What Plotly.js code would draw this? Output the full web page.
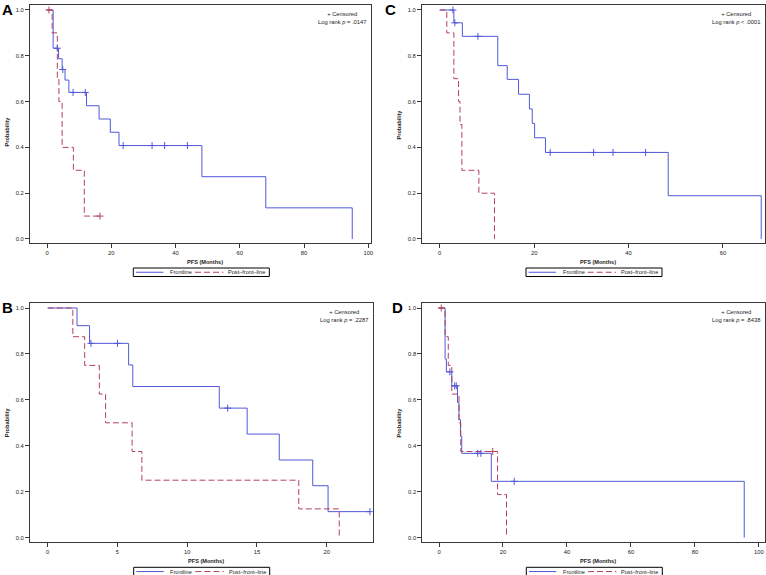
<!DOCTYPE html>
<html><head><meta charset="utf-8">
<script src="https://cdn.plot.ly/plotly-3.0.1.min.js"></script>
<style>html,body{margin:0;padding:0;background:#fff}#chart{width:766px;height:575px}</style>
</head><body><div id="chart"></div>
<script>
// ---------- data ----------
const seriesNames = ['Frontline', 'Post\u2013front\u2013line'];
const panelLetters = ['A', 'C', 'B', 'D'];
const logRankText = ['p = .0147', 'p < .0001', 'p = .2287', 'p = .8438'];

// Panel A
const aFrontTime = [0, 1.9, 3.6, 4.7, 5.6, 6.8, 12.3, 16.2, 19.7, 22.4, 48.2, 68.1, 95.0];
const aFrontSurv = [1, 0.833, 0.787, 0.740, 0.694, 0.640, 0.582, 0.524, 0.466, 0.408, 0.272, 0.136, 0];
const aFrontCens = [3.2, 4.9, 8.1, 11.9, 23.7, 32.7, 36.6, 43.7];
const aPostTime = [0, 1.6, 3.2, 3.7, 4.7, 8.2, 11.6, 16.5];
const aPostSurv = [1, 0.9, 0.7, 0.6, 0.4, 0.3, 0.1, 0.1];
const aPostCens = [0.6, 16.5];

// Panel C
const cFrontTime = [0, 3.0, 4.8, 12.3, 14.3, 16.7, 19.0, 19.6, 20.1, 22.4, 48.4, 68.1];
const cFrontSurv = [1, 0.944, 0.885, 0.757, 0.697, 0.632, 0.568, 0.505, 0.442, 0.378, 0.189, 0];
const cFrontCens = [2.8, 3.2, 8.1, 23.4, 32.6, 36.7, 43.6];
const cPostTime = [0, 1.5, 3.0, 4.0, 4.3, 4.7, 8.3, 11.6];
const cPostSurv = [1, 0.9, 0.7, 0.6, 0.5, 0.3, 0.2, 0];
const cPostCens = [];

// Panel B
const bFrontTime = [0, 2.1, 3.0, 5.8, 6.1, 12.3, 14.3, 16.6, 19.0, 20.1, 23.1];
const bFrontSurv = [1, 0.923, 0.846, 0.752, 0.658, 0.564, 0.451, 0.338, 0.226, 0.113, 0.113];
const bFrontCens = [3.1, 5.0, 12.9, 23.1];
const bPostTime = [0, 1.8, 2.65, 3.7, 4.15, 6.05, 6.75, 18.0, 20.9];
const bPostSurv = [1, 0.875, 0.75, 0.625, 0.5, 0.375, 0.25, 0.125, 0];
const bPostCens = [];

// Panel D
const dFrontTime = [0, 1.9, 2.3, 4.0, 5.8, 6.25, 6.7, 7.1, 16.35, 95.4];
const dFrontSurv = [1, 0.778, 0.722, 0.661, 0.588, 0.514, 0.441, 0.367, 0.245, 0];
const dFrontCens = [3.4, 4.9, 5.4, 12.1, 13.1, 23.5];
const dPostTime = [0, 1.9, 2.9, 4.0, 6.25, 6.8, 18.3, 21.1];
const dPostSurv = [1, 0.875, 0.75, 0.625, 0.5, 0.375, 0.1875, 0];
const dPostCens = [0.7, 16.8];

const yTicks = [0, 0.2, 0.4, 0.6, 0.8, 1.0];

// ---------- styling ----------
const W = 766, H = 575;
const BLUE = '#5058d8', RED = '#b4405e', FRAME = '#3a3a3a';
const FONT = 'Liberation Sans, Arial, sans-serif';
const px = x => x / W, py = y => 1 - y / H;

function stepAt(times, surv, t) {
  let v = surv[0];
  for (let i = 0; i < times.length; i++) if (times[i] <= t) v = surv[i];
  return v;
}

const panels = [
  {ft: aFrontTime, fs: aFrontSurv, fc: aFrontCens, pt: aPostTime, ps: aPostSurv, pc: aPostCens,
   box: [30, 371, 5, 243], xr: [-5.3, 100.84], yr: [-0.0175, 1.0218], dt: 20, ax: '', lc: 201.3},
  {ft: cFrontTime, fs: cFrontSurv, fc: cFrontCens, pt: cPostTime, ps: cPostSurv, pc: cPostCens,
   box: [422, 765, 5, 243], xr: [-3.75, 68.9], yr: [-0.0175, 1.0218], dt: 20, ax: '2', lc: 594},
  {ft: bFrontTime, fs: bFrontSurv, fc: bFrontCens, pt: bPostTime, ps: bPostSurv, pc: bPostCens,
   box: [30, 372.7, 303.3, 542.3], xr: [-1.27, 23.3], yr: [-0.0205, 1.0205], dt: 5, ax: '3', lc: 201.7},
  {ft: dFrontTime, fs: dFrontSurv, fc: dFrontCens, pt: dPostTime, ps: dPostSurv, pc: dPostCens,
   box: [422.3, 764.7, 303.3, 542.3], xr: [-5.22, 101.8], yr: [-0.0205, 1.0205], dt: 20, ax: '4', lc: 594.3}
];

const traces = [];
const layout = {
  width: W, height: H, margin: {l: 0, r: 0, t: 0, b: 0, autoexpand: false},
  paper_bgcolor: '#fff', plot_bgcolor: '#fff',
  font: {family: FONT, color: '#222'},
  annotations: [], shapes: [], showlegend: false
};

panels.forEach((p, i) => {
  const xa = 'x' + p.ax, ya = 'y' + p.ax;
  traces.push({x: p.ft, y: p.fs, xaxis: xa, yaxis: ya, type: 'scatter', mode: 'lines',
    line: {shape: 'hv', color: BLUE, width: 1}, name: seriesNames[0], hoverinfo: 'skip'});
  traces.push({x: p.pt, y: p.ps, xaxis: xa, yaxis: ya, type: 'scatter', mode: 'lines',
    line: {shape: 'hv', color: RED, width: 1, dash: '6px,3px'}, name: seriesNames[1], hoverinfo: 'skip'});
  traces.push({x: p.fc, y: p.fc.map(t => stepAt(p.ft, p.fs, t)), xaxis: xa, yaxis: ya, type: 'scatter', mode: 'markers',
    marker: {symbol: 'cross-thin-open', size: 5, color: BLUE, line: {color: BLUE, width: 1}}, hoverinfo: 'skip'});
  traces.push({x: p.pc, y: p.pc.map(t => stepAt(p.pt, p.ps, t)), xaxis: xa, yaxis: ya, type: 'scatter', mode: 'markers',
    marker: {symbol: 'cross-thin-open', size: 5, color: RED, line: {color: RED, width: 1}}, hoverinfo: 'skip'});

  const [l, r, t, b] = p.box;
  const common = {showline: true, mirror: true, linecolor: FRAME, linewidth: 1, ticks: 'outside', ticklen: 4,
    tickwidth: 1, tickcolor: FRAME, showgrid: false, zeroline: false, fixedrange: true,
    tickfont: {family: FONT, size: 5.8, color: '#222'}};
  layout['xaxis' + p.ax] = Object.assign({}, common, {domain: [px(l), px(r)], range: p.xr, tick0: 0, dtick: p.dt, anchor: ya});
  layout['yaxis' + p.ax] = Object.assign({}, common, {domain: [py(b), py(t)], range: p.yr, tickvals: yTicks, tickformat: '.1f', anchor: xa});

  // legend (drawn manually: box, samples, labels)
  const L0 = p.lc - 68, top = b + 25, bot = b + 33.5, mid = (top + bot) / 2;
  layout.shapes.push({type: 'rect', xref: 'paper', yref: 'paper', x0: px(L0), x1: px(L0 + 136), y0: py(bot), y1: py(top),
    line: {color: '#000', width: 1}, fillcolor: '#fff'});
  layout.shapes.push({type: 'line', xref: 'paper', yref: 'paper', x0: px(L0 + 2.7), x1: px(L0 + 30), y0: py(mid), y1: py(mid),
    line: {color: BLUE, width: 1}});
  layout.shapes.push({type: 'line', xref: 'paper', yref: 'paper', x0: px(L0 + 61.7), x1: px(L0 + 90), y0: py(mid), y1: py(mid),
    line: {color: RED, width: 1, dash: '6px,3px'}});
  layout.annotations.push({text: seriesNames[0], xref: 'paper', yref: 'paper', x: px(L0 + 34.5), xanchor: 'left',
    y: py(mid), yanchor: 'middle', showarrow: false, font: {family: FONT, size: 5.6, color: '#222'}});
  layout.annotations.push({text: seriesNames[1], xref: 'paper', yref: 'paper', x: px(L0 + 93), xanchor: 'left',
    y: py(mid), yanchor: 'middle', showarrow: false, font: {family: FONT, size: 5.6, color: '#222'}});

  // panel letter
  layout.annotations.push({text: '<b>' + panelLetters[i] + '</b>', xref: 'paper', yref: 'paper',
    x: px(i % 2 === 0 ? 0 : (i === 1 ? 383 : 390)), xanchor: 'left', y: py(t + 4), yanchor: 'middle',
    showarrow: false, font: {family: FONT, size: 15, color: '#000'}});
  // censored / log rank
  layout.annotations.push({text: '+ Censored<br>Log rank <i>' + logRankText[i].slice(0, 1) + '</i>' + logRankText[i].slice(1),
    xref: 'paper', yref: 'paper', x: px(r - 2), xanchor: 'right', y: py(t + 4), yanchor: 'top', align: 'center',
    showarrow: false, font: {family: FONT, size: 5.8, color: '#222'}});
  // x title
  layout.annotations.push({text: '<b>PFS (Months)</b>', xref: 'paper', yref: 'paper', x: px(p.lc + 4), xanchor: 'center',
    y: py(b + 19), yanchor: 'middle', showarrow: false, font: {family: FONT, size: 5.6, color: '#222'}});
  // y title
  layout.annotations.push({text: '<b>Probability</b>', xref: 'paper', yref: 'paper', textangle: -90,
    x: px(l - 23.5), xanchor: 'center', y: py((t + b) / 2 + (i === 0 ? 8 : 0)), yanchor: 'middle',
    showarrow: false, font: {family: FONT, size: 5.6, color: '#222'}});
});

Plotly.newPlot('chart', traces, layout, {staticPlot: true, displayModeBar: false});
</script></body></html>
